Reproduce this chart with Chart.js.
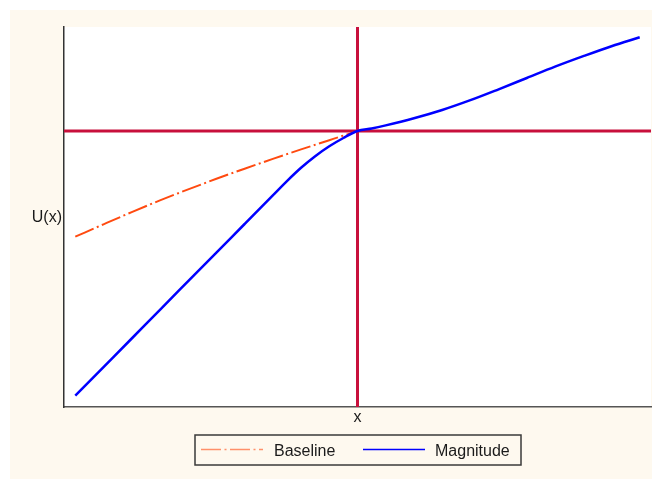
<!DOCTYPE html>
<html>
<head>
<meta charset="utf-8">
<script src="https://cdn.jsdelivr.net/npm/chart.js@4/dist/chart.umd.min.js"></script>
<style>
    body { margin: 0; background: #ffffff; }
    #frame { position: absolute; left: 10px; top: 10px; width: 642px; height: 469px; background: #fef9ef; }
</style>
</head>
<body>
<div id="frame"><canvas id="chart" width="642" height="469"></canvas></div>
<script>
// values (reference point at x = 0, U = 0)
const xValues = [-1, -0.9, -0.8, -0.7, -0.6, -0.5, -0.4, -0.3, -0.25, -0.2, -0.15, -0.1, -0.05, 0, 0.05, 0.1, 0.2, 0.3, 0.4, 0.5, 0.6, 0.7, 0.8, 0.9, 1];
const magnitudeValues = [-2.647, -2.361, -2.075, -1.788, -1.502, -1.216, -0.93, -0.644, -0.501, -0.368, -0.252, -0.153, -0.07, 0, 0.025, 0.056, 0.127, 0.21, 0.308, 0.417, 0.53, 0.643, 0.748, 0.848, 0.937];
const baselineX = [-1, -0.9, -0.8, -0.7, -0.6, -0.5, -0.4, -0.3, -0.2, -0.1, 0];
const baselineValues = [-1.057, -0.933, -0.811, -0.694, -0.584, -0.478, -0.377, -0.279, -0.184, -0.092, 0];
const referenceX = 0;
const referenceU = 0;
const xRange = [-1.04, 1.04];
const yRange = [-2.76, 1.04];
const legendLabels = ['Baseline', 'Magnitude'];

const refColor = '#c8103c';
const font = '16px "Liberation Sans", Arial, sans-serif';

const magnitudeData = xValues.map((x, i) => ({ x: x, y: magnitudeValues[i] }));
const baselineData = baselineX.map((x, i) => ({ x: x, y: baselineValues[i] }));

// white plot area, axis titles and a boxed legend
const extrasPlugin = {
    id: 'extras',
    beforeDraw(chart) {
        const { ctx, chartArea } = chart;
        ctx.save();
        ctx.fillStyle = '#ffffff';
        ctx.fillRect(chartArea.left, chartArea.top, chartArea.right - chartArea.left, chartArea.bottom - chartArea.top);
        ctx.restore();
    },
    afterDraw(chart) {
        const { ctx, chartArea } = chart;
        ctx.save();
        ctx.font = font;
        ctx.fillStyle = '#1a1a1a';
        ctx.textBaseline = 'alphabetic';
        ctx.textAlign = 'right';
        ctx.fillText('U(x)', chartArea.left - 2, 212);
        ctx.textAlign = 'center';
        ctx.fillText('x', chart.scales.x.getPixelForValue(referenceX), chartArea.bottom + 15);

        // legend box
        const box = { x: 185, y: 425, w: 326, h: 30 };
        ctx.strokeStyle = '#3a3a3a';
        ctx.lineWidth = 1.5;
        ctx.strokeRect(box.x, box.y, box.w, box.h);

        const ds = chart.data.datasets;
        const items = [
            { ds: ds[1], lineX: 191, textX: 264, alpha: 0.6 },
            { ds: ds[0], lineX: 353, textX: 425, alpha: 1 }
        ];
        ctx.textAlign = 'left';
        items.forEach((it) => {
            ctx.save();
            ctx.globalAlpha = it.alpha;
            ctx.beginPath();
            ctx.setLineDash(it.ds.borderDash || []);
            ctx.strokeStyle = it.ds.borderColor;
            ctx.lineWidth = 1.6;
            ctx.moveTo(it.lineX, 439.5);
            ctx.lineTo(it.lineX + 62, 439.5);
            ctx.stroke();
            ctx.restore();
            ctx.fillText(it.ds.label, it.textX, 446);
        });
        ctx.restore();
    }
};

const ctx = document.getElementById('chart').getContext('2d');
new Chart(ctx, {
    type: 'line',
    data: {
        datasets: [
            {
                label: legendLabels[1],
                data: magnitudeData,
                borderColor: '#0000ff',
                borderWidth: 2.5,
                pointRadius: 0,
                cubicInterpolationMode: 'monotone'
            },
            {
                label: legendLabels[0],
                data: baselineData,
                borderColor: '#ff4a10',
                borderWidth: 2,
                borderDash: [20, 3.5, 2, 3.5],
                pointRadius: 0,
                cubicInterpolationMode: 'monotone'
            },
            {
                label: 'ref-h',
                data: [{ x: xRange[0], y: referenceU }, { x: xRange[1], y: referenceU }],
                borderColor: refColor,
                borderWidth: 3,
                pointRadius: 0
            },
            {
                label: 'ref-v',
                data: [{ x: referenceX, y: yRange[0] }, { x: referenceX, y: yRange[1] }],
                borderColor: refColor,
                borderWidth: 3,
                pointRadius: 0
            }
        ]
    },
    options: {
        responsive: false,
        animation: false,
        layout: { padding: { left: 54, top: 17, right: 1, bottom: 72 } },
        plugins: {
            legend: { display: false },
            tooltip: { enabled: false }
        },
        scales: {
            x: {
                type: 'linear',
                min: xRange[0],
                max: xRange[1],
                ticks: { display: false },
                grid: { display: false, drawTicks: false },
                border: { display: true, color: '#555555', width: 1.5 }
            },
            y: {
                type: 'linear',
                min: yRange[0],
                max: yRange[1],
                ticks: { display: false },
                grid: { display: false, drawTicks: false },
                border: { display: true, color: '#333333', width: 1.5 }
            }
        }
    },
    plugins: [extrasPlugin]
});
</script>
</body>
</html>
